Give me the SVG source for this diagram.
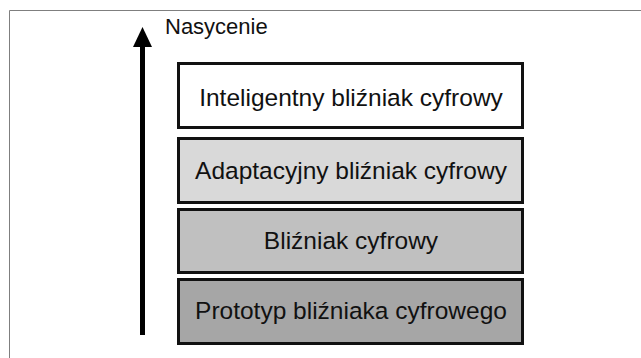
<svg xmlns="http://www.w3.org/2000/svg" width="641" height="358" viewBox="0 0 641 358">
  <style>
    .frame { fill: none; stroke: #7f7f7f; stroke-width: 1; }
    .level rect { stroke: #111; stroke-width: 3; }
    .level text, .axis-label { font-family: "Liberation Sans", Arial, sans-serif; fill: #111; }
    .level text { font-size: 24.5px; text-anchor: middle; }
    .axis-label { font-size: 22px; }
  </style>
  <defs>
    <!-- triangular head, drawn pointing along +x so orient="auto" follows the line -->
    <marker id="arrowhead" markerUnits="userSpaceOnUse" markerWidth="20" markerHeight="20" refX="0" refY="9.5" orient="auto" viewBox="0 0 20 19">
      <path d="M0,0 L20,9.5 L0,19 Z" fill="#000"/>
    </marker>
  </defs>

  <rect width="641" height="358" fill="#fff"/>
  <!-- outer frame, open to the right and bottom -->
  <path class="frame" d="M641,10.5 H9.5 V358"/>

  <g id="connectors">
    <line id="saturation-axis" x1="142.5" y1="335" x2="142.5" y2="47" stroke="#000" stroke-width="5" marker-end="url(#arrowhead)"/>
  </g>
  <text class="axis-label" x="165" y="34">Nasycenie</text>

  <g id="level-intelligent" class="level">
    <rect x="178.5" y="63.5" width="344" height="64" fill="#ffffff"/>
    <text x="351" y="106">Inteligentny bliźniak cyfrowy</text>
  </g>
  <g id="level-adaptive" class="level">
    <rect x="178.5" y="138.5" width="344" height="64" fill="#d9d9d9"/>
    <text x="351" y="179">Adaptacyjny bliźniak cyfrowy</text>
  </g>
  <g id="level-twin" class="level">
    <rect x="178.5" y="209.5" width="344" height="63" fill="#c0c0c0"/>
    <text x="351" y="249">Bliźniak cyfrowy</text>
  </g>
  <g id="level-prototype" class="level">
    <rect x="178.5" y="279.5" width="344" height="64" fill="#a6a6a6"/>
    <text x="351" y="319">Prototyp bliźniaka cyfrowego</text>
  </g>
</svg>
